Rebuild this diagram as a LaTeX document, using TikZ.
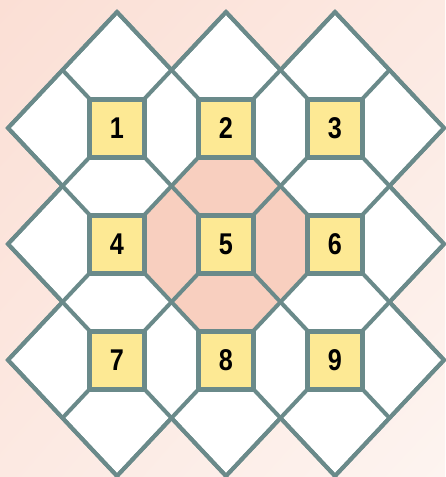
\documentclass[tikz,border=0pt]{standalone}
\usepackage{fontspec}
\setmainfont{Liberation Sans}
\usetikzlibrary{shadings}
\definecolor{bgA}{HTML}{FBDFD5}
\definecolor{bgM}{HTML}{FCE9E2}
\definecolor{bgB}{HTML}{FDF4F0}
\definecolor{gridc}{HTML}{6A8A8A}
\definecolor{pinkc}{HTML}{F8CFBF}
\definecolor{yelc}{HTML}{FDE994}
\tikzset{
  gridline/.style={draw=gridc, line width=4pt},
  sq/.style={draw=gridc, line width=5pt, fill=yelc, rectangle, inner sep=0pt,
    minimum width=54.5pt, minimum height=58pt,
    font=\fontsize{30}{30}\selectfont\bfseries},
}
\newcommand{\dig}[1]{\raisebox{-2.5pt}{\scalebox{0.84}[1]{#1}}}
\begin{document}
\begin{tikzpicture}[x=54.5pt,y=-58pt]
\useasboundingbox (-8pt,12pt) rectangle (437pt,-465pt);
\shade[upper left=bgA, upper right=bgM, lower left=bgM, lower right=bgB]
  (-8pt,12pt) rectangle (437pt,-465pt);
% white field with outline
\filldraw[fill=white, gridline] (0,2) -- (1,1) -- (2,0) -- (3,1) -- (4,0) -- (5,1) -- (6,0) -- (7,1)
  -- (8,2) -- (7,3) -- (8,4) -- (7,5) -- (8,6) -- (7,7) -- (6,8) -- (5,7)
  -- (4,8) -- (3,7) -- (2,8) -- (1,7) -- (0,6) -- (1,5) -- (0,4) -- (1,3) -- cycle;
% pink centre
\fill[pinkc] (3.5,2.5) -- (4.5,2.5) -- (5,3) -- (5.5,3.5) -- (5.5,4.5) -- (5,5)
  -- (4.5,5.5) -- (3.5,5.5) -- (3,5) -- (2.5,4.5) -- (2.5,3.5) -- (3,3) -- cycle;
% diagonal lines
\foreach \a/\b in {{1,1}/{7,7},{2,0}/{8,6},{4,0}/{8,4},{6,0}/{8,2},{0,2}/{6,8},{0,4}/{4,8},{0,6}/{2,8},
  {0,2}/{2,0},{0,4}/{4,0},{0,6}/{6,0},{1,7}/{7,1},{2,8}/{8,2},{4,8}/{8,4},{6,8}/{8,6}}
  \draw[gridline] (\a) -- (\b);
% squares
\node[sq] (s1) at (2,2) {\dig{1}};
\node[sq] (s2) at (4,2) {\dig{2}};
\node[sq] (s3) at (6,2) {\dig{3}};
\node[sq] (s4) at (2,4) {\dig{4}};
\node[sq] (s5) at (4,4) {\dig{5}};
\node[sq] (s6) at (6,4) {\dig{6}};
\node[sq] (s7) at (2,6) {\dig{7}};
\node[sq] (s8) at (4,6) {\dig{8}};
\node[sq] (s9) at (6,6) {\dig{9}};
\end{tikzpicture}
\end{document}
